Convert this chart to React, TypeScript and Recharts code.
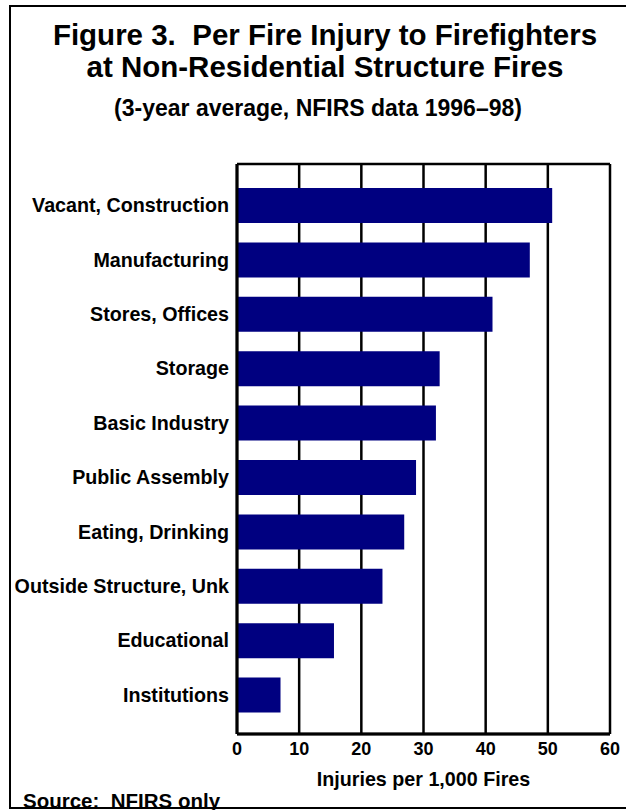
import { BarChart, Bar, XAxis, YAxis, CartesianGrid } from 'recharts'

const categories = [
  'Vacant, Construction',
  'Manufacturing',
  'Stores, Offices',
  'Storage',
  'Basic Industry',
  'Public Assembly',
  'Eating, Drinking',
  'Outside Structure, Unk',
  'Educational',
  'Institutions',
]
const injuries = [50.7, 47.1, 41.1, 32.6, 32.0, 28.8, 26.9, 23.4, 15.6, 7.0]
const xTicks = [0, 10, 20, 30, 40, 50, 60]

const data = categories.map((name, i) => ({ name, value: injuries[i] }))

const font = 'Arial, "Liberation Sans", Helvetica, sans-serif'

export default function App() {
  return (
    <div
      style={{
        position: 'absolute',
        left: 0,
        top: 0,
        width: 626,
        height: 810,
        overflow: 'hidden',
        background: '#fff',
        fontFamily: font,
        fontWeight: 'bold',
        color: '#000',
      }}
    >
      <div
        style={{
          position: 'absolute',
          left: 9,
          top: 5,
          width: 640,
          height: 800,
          border: '2px solid #000',
        }}
      />
      <div
        style={{
          position: 'absolute',
          left: 10,
          top: 19,
          width: 630,
          textAlign: 'center',
          fontSize: 29.5,
          lineHeight: '32px',
          whiteSpace: 'pre',
        }}
      >
        {'Figure 3.  Per Fire Injury to Firefighters\nat Non-Residential Structure Fires'}
      </div>
      <div
        style={{
          position: 'absolute',
          left: 10,
          top: 94,
          width: 616,
          textAlign: 'center',
          fontSize: 23,
          lineHeight: '28px',
        }}
      >
        (3-year average, NFIRS data 1996–98)
      </div>
      <div
        style={{
          position: 'absolute',
          left: 23,
          top: 790,
          fontSize: 20.5,
          lineHeight: '22px',
          whiteSpace: 'pre',
        }}
      >
        {'Source:  NFIRS only'}
      </div>
      <div style={{ position: 'absolute', left: 0, top: 0 }}>
        <BarChart
          width={626}
          height={810}
          layout="vertical"
          data={data}
          margin={{ top: 164, right: 16, left: 0, bottom: 20 }}
        >
          <CartesianGrid
            stroke="#000"
            strokeWidth={2.5}
            horizontalCoordinatesGenerator={({ offset }: any) => [
              offset.top,
              offset.top + offset.height,
            ]}
          />
          <XAxis
            type="number"
            domain={[0, 60]}
            ticks={xTicks}
            interval={0}
            height={56}
            tickLine={false}
            axisLine={{ stroke: '#000', strokeWidth: 3 }}
            tick={{ fill: '#000', fontSize: 18, fontWeight: 'bold', fontFamily: font }}
            label={{
              value: 'Injuries per 1,000 Fires',
              position: 'insideBottom',
              offset: 4,
              fill: '#000',
              fontSize: 19.7,
              fontWeight: 'bold',
              fontFamily: font,
            }}
          />
          <YAxis
            type="category"
            dataKey="name"
            width={237}
            padding={{ top: 14, bottom: 12 }}
            tickLine={false}
            interval={0}
            axisLine={{ stroke: '#000', strokeWidth: 3 }}
            tick={{ fill: '#000', fontSize: 19.7, fontWeight: 'bold', fontFamily: font }}
          />
          <Bar dataKey="value" fill="#000080" barSize={35} isAnimationActive={false} />
        </BarChart>
      </div>
    </div>
  )
}
